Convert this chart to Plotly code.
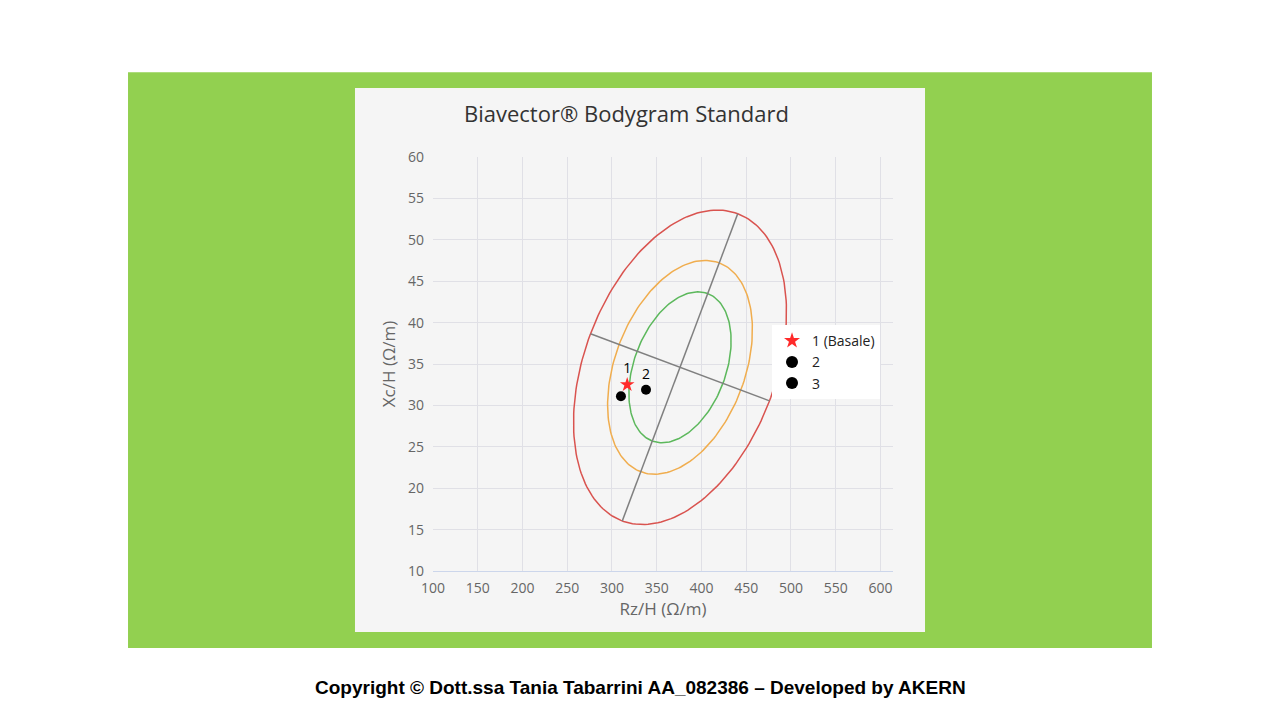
import numpy as np
import plotly.graph_objects as go

# punti misurati
names = ["1 (Basale)", "2", "3"]
rz = [317, 338, 310]
xc = [32.5, 31.9, 31.1]
labels = ["1", "2", ""]
symbols = ["star", "circle", "circle"]
colors = ["#ff2a2a", "black", "black"]

# ellissi di tolleranza (centro, semiasse maggiore, semiasse minore)
center = [376, 34.6]
major = [64.5, 18.55]
minor = [100, -4.05]
scales = [0.48, 0.68, 1.0]
ell_colors = ["#5cb85c", "#f0ad4e", "#d9534f"]

fig = go.Figure()

t = np.linspace(0, 2*np.pi, 200)
for s, c in zip(scales, ell_colors):
    ex = center[0] + s*(major[0]*np.cos(t) + minor[0]*np.sin(t))
    ey = center[1] + s*(major[1]*np.cos(t) + minor[1]*np.sin(t))
    fig.add_trace(go.Scatter(x=ex, y=ey, mode="lines", line=dict(color=c, width=1.5),
                             showlegend=False, hoverinfo="skip"))

# assi
fig.add_trace(go.Scatter(x=[center[0]-major[0], center[0]+major[0]], y=[center[1]-major[1], center[1]+major[1]],
                         mode="lines", line=dict(color="#808080", width=1.5), showlegend=False))
fig.add_trace(go.Scatter(x=[center[0]-minor[0], center[0]+minor[0]], y=[center[1]-minor[1], center[1]+minor[1]],
                         mode="lines", line=dict(color="#808080", width=1.5), showlegend=False))

for i in range(3):
    fig.add_trace(go.Scatter(x=[rz[i]], y=[xc[i]], mode="markers+text", name=names[i],
                             text=[labels[i]], textposition="top center",
                             textfont=dict(size=14, color="black", family="Open Sans"),
                             marker=dict(symbol=symbols[i], color=colors[i], size=11 if i == 0 else 10)))

fig.update_layout(
    width=1280, height=720,
    margin=dict(l=425, r=395, t=149, b=157),
    paper_bgcolor="white", plot_bgcolor="#f5f5f5",
    font=dict(family="Open Sans", color="#666666", size=14),
    legend=dict(x=0.737, y=0.594, xanchor="left", yanchor="top", bgcolor="white",
                font=dict(size=14, color="#222222"), itemsizing="constant"),
    shapes=[
        dict(type="rect", xref="paper", yref="paper", x0=-0.663, x1=1.563, y0=-0.186, y1=1.205,
             fillcolor="#92d050", line_width=0, layer="below"),
        dict(type="rect", xref="paper", yref="paper", x0=-0.1696, x1=1.0696, y0=-0.1473, y1=1.1667,
             fillcolor="#f5f5f5", line_width=0, layer="below"),
    ],
    annotations=[
        dict(text="Biavector® Bodygram Standard", xref="paper", yref="paper", x=0.4217, y=1.147,
             showarrow=False, font=dict(size=22, color="#333333", family="Open Sans")),
        dict(text="<b>Copyright © Dott.ssa Tania Tabarrini AA_082386 – Developed by AKERN</b>",
             xref="paper", yref="paper", x=0.45, y=-0.311, showarrow=False,
             font=dict(size=19, color="black", family="Liberation Sans")),
    ],
)
fig.update_xaxes(range=[100, 614], tickvals=list(range(100, 601, 50)), gridcolor="#e0e0e6",
                 showline=True, linecolor="#ccd6eb", zeroline=False, ticklabelstandoff=4,
                 title=dict(text="Rz/H (Ω/m)", standoff=6))
fig.update_yaxes(range=[10, 60], dtick=5, gridcolor="#e0e0e6", zeroline=False, ticklabelstandoff=8,
                 title=dict(text="Xc/H (Ω/m)", standoff=8))

fig.write_html("out.html")
